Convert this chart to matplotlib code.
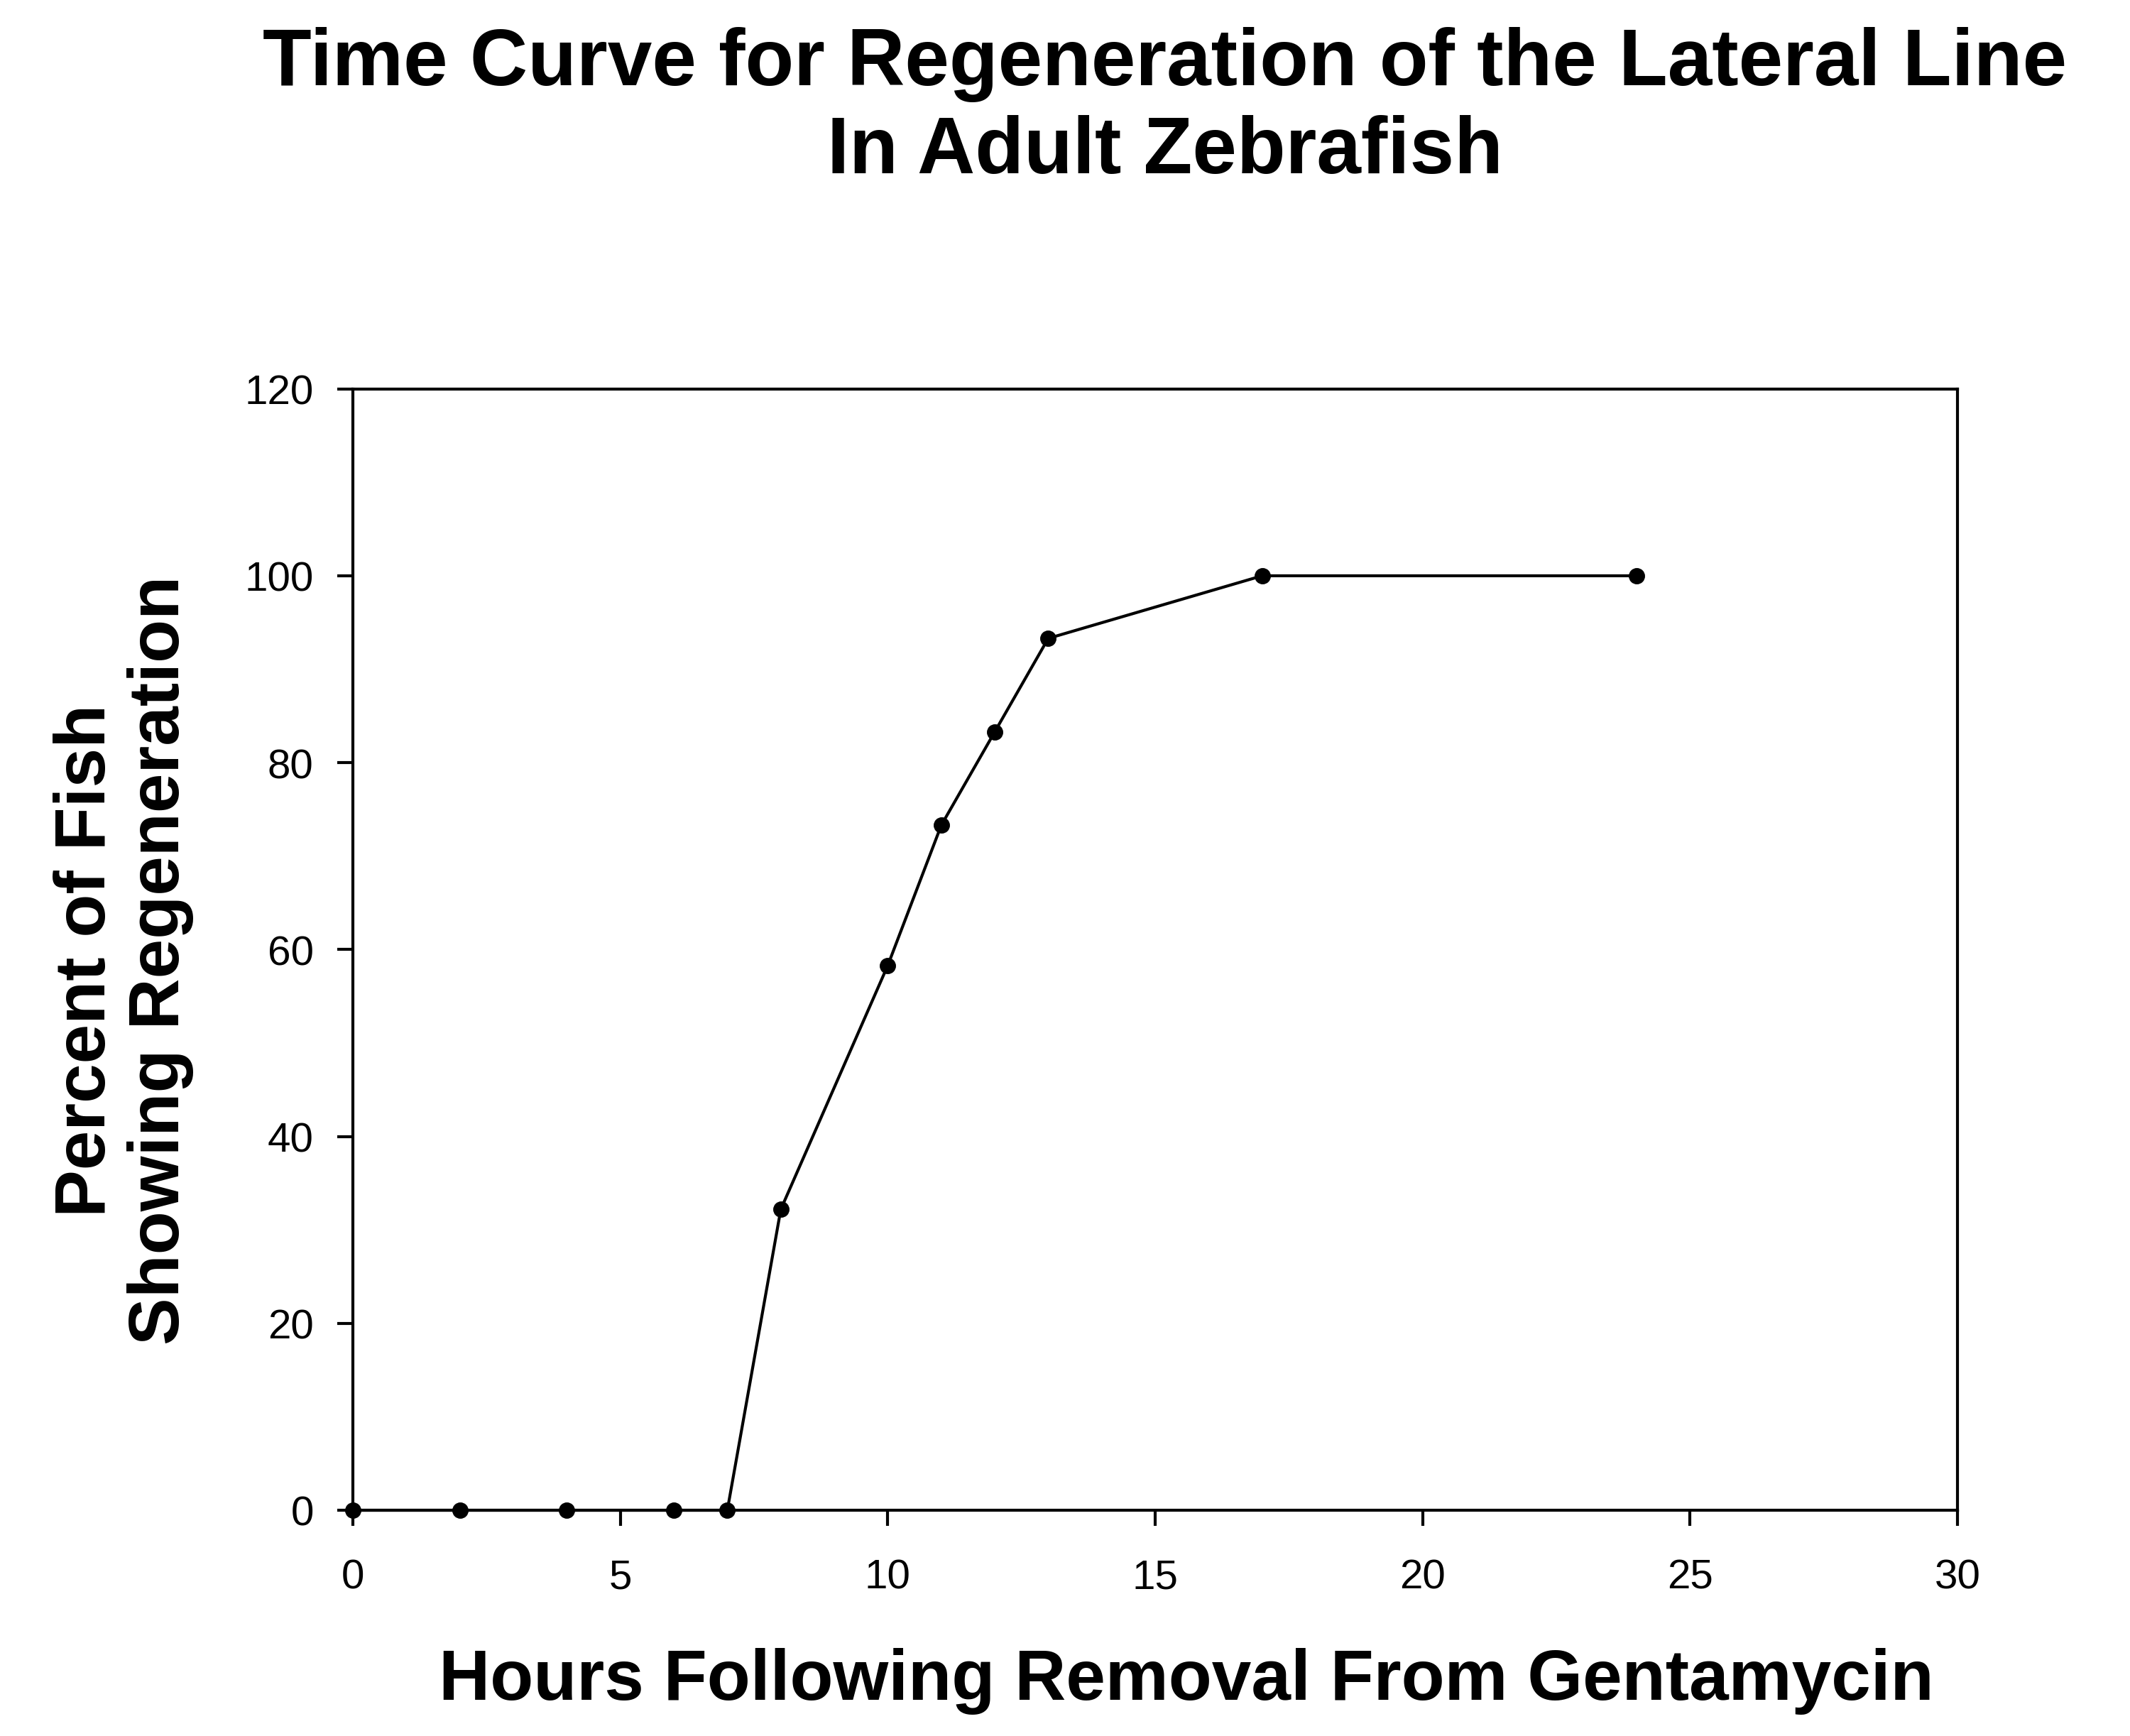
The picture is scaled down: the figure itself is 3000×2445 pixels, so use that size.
"""
Time curve for lateral line regeneration in adult zebrafish.
Writes out.png (3000x2446).
"""
import matplotlib.pyplot as plt
import matplotlib as mpl

mpl.rcParams.update({
    "font.family": ["Liberation Sans", "DejaVu Sans"],
    "axes.linewidth": 1.0,
})

HOURS   = [0, 2, 4, 6, 7, 8, 10, 11, 12, 13, 17, 24]
PERCENT = [0, 0, 0, 0, 0, 32.2, 58.3, 73.3, 83.3, 93.3, 100, 100]

X_TICKS = [0, 5, 10, 15, 20, 25, 30]
Y_TICKS = [0, 20, 40, 60, 80, 100, 120]


def main():
    fig = plt.figure(figsize=(10, 8.153), dpi=300)
    ax = fig.add_axes([0.1657, 0.130, 0.7533, 0.6457])

    ax.plot(HOURS, PERCENT, color="black", linewidth=1.0,
            marker="o", markersize=4.5, clip_on=False, zorder=3)

    ax.set_xlim(0, 30)
    ax.set_ylim(0, 120)
    ax.set_xticks(X_TICKS)
    ax.set_yticks(Y_TICKS)
    ax.tick_params(direction="out", length=5.3, width=1.0, labelsize=14)
    ax.tick_params(axis="x", pad=11)
    ax.tick_params(axis="y", pad=8)

    fig.text(0.557, 0.032, "Hours Following Removal From Gentamycin",
             ha="center", va="center", fontsize=24, fontweight="bold")
    fig.text(0.058, 0.447, "Percent of Fish\nShowing Regeneration",
             ha="center", va="center", rotation=90, fontsize=24,
             fontweight="bold", linespacing=1.15)
    fig.text(0.547, 0.9375, "Time Curve for Regeneration of the Lateral Line\n"
             "In Adult Zebrafish", ha="center", va="center",
             fontsize=27, fontweight="bold", linespacing=1.22)

    fig.savefig("out.png", dpi=300)
    plt.close(fig)


if __name__ == "__main__":
    main()
